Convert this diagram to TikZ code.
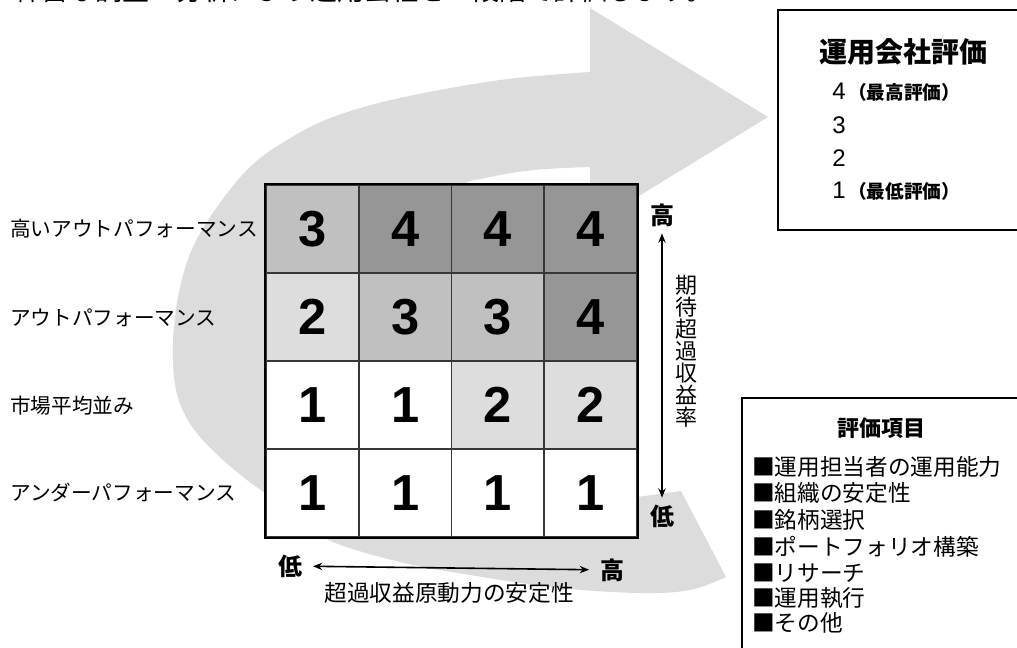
\documentclass[tikz,border=0pt]{standalone}
\usepackage{fontspec}
\usetikzlibrary{arrows.meta}
\setmainfont{Noto Sans CJK JP}
\newfontfamily\numfont{Liberation Sans}
\definecolor{band}{RGB}{220,220,220}
\definecolor{c1}{RGB}{255,255,255}
\definecolor{c2}{RGB}{221,221,221}
\definecolor{c3}{RGB}{192,192,192}
\definecolor{c4}{RGB}{150,150,150}
\definecolor{gridline}{RGB}{55,55,55}
\begin{document}
\begin{tikzpicture}[x=0.75pt,y=-0.75pt,
		cell/.style={draw=gridline,line width=1.4pt,minimum width=69.56pt,
			minimum height=66pt,inner sep=0pt,
			font=\numfont\bfseries\fontsize{38}{38}\selectfont},
		rowlab/.style={anchor=west,inner sep=0pt,font=\fontsize{15.5}{16}\selectfont},
		axlab/.style={inner sep=0pt,font=\bfseries\fontsize{18}{18}\selectfont},
		axarr/.style={{Stealth[length=7pt,width=5.5pt]}-{Stealth[length=7pt,width=5.5pt]},
			line width=1.2pt},
		leglab/.style={anchor=west,inner sep=0pt,font=\fontsize{18}{18}\selectfont},
		itemlab/.style={anchor=west,inner sep=0pt,font=\fontsize{17}{17}\selectfont}]
	\useasboundingbox (0,0) rectangle (1017,648);
	\clip (0,0) rectangle (1017,648);
	\node[anchor=base west,inner sep=0pt,font=\fontsize{20.25}{21}\selectfont] (lead)
	at (14,1) {綿密な調査・分析により運用会社を４段階で評価します。};
	\fill[band] plot[smooth,tension=0.6] coordinates {(590,72) (500,80) (400,98)
		(333,117) (287,140) (250,167) (217,207) (193,247) (180,287) (174,327)
		(173,360) (176,390) (185,415) (200,437) (223,460) (247,480) (265,493)
		(300,520) (333,542) (400,562) (470,575) (560,588) (640,593) (690,590) (726,577)}
	-- (681,491) -- (637,497)
	-- plot[smooth,tension=0.6] coordinates {(600,505) (480,470) (380,400) (340,300)
		(380,222) (455,187) (485,178) (534,170) (590,167)}
	-- (590,226) -- (768,117) -- (590,8) -- cycle;
	\foreach \row/\a/\b/\c/\d in {0/3/4/4/4,1/2/3/3/4,2/1/1/2/2,3/1/1/1/1}
	\foreach \col/\v in {0/\a,1/\b,2/\c,3/\d}
	\node[cell,fill=c\v] (c\row\col) at ({312.4+92.75*\col},{229+88*\row}) {\v};
	\draw[line width=1.6pt] (c00.north west) rectangle (c33.south east);
	\foreach \n/\y/\texn in {1/229/高いアウトパフォーマンス,2/318/アウトパフォーマンス,
		3/406/市場平均並み,4/492/アンダーパフォーマンス}
	\node[rowlab] (r\n) at (10,\y) {\texn};
	\node[axlab] (yhi) at (662,215) {高};
	\node[axlab] (ylo) at (662,516) {低};
	\draw[axarr,shorten <=5pt,shorten >=5pt] (yhi) -- (ylo);
	\node[align=center,inner sep=0pt,font=\fontsize{16.5}{16.5}\selectfont] (ytitle)
	at (686,351) {期\\待\\超\\過\\収\\益\\率};
	\node[axlab] (xlo) at (290,566) {低};
	\node[axlab] (xhi) at (612,570) {高};
	\draw[axarr,shorten <=8pt,shorten >=8pt] (xlo) -- (xhi);
	\node[inner sep=0pt,font=\fontsize{17}{17}\selectfont] (xtitle)
	at (449,593) {超過収益原動力の安定性};
	\draw[line width=2.2pt] (778,10) rectangle (1040,230);
	\node[inner sep=0pt,font=\bfseries\fontsize{21}{21}\selectfont] (evaltitle)
	at (903,52) {運用会社評価};
	\foreach \y/\n/\texn in {92/4/（最高評価）,125/3/,158/2/,191/1/（最低評価）}
	\node[leglab] (lv\n) at (832,\y)
	{{\numfont\n}\hspace{2pt}{\bfseries\fontsize{14}{14}\selectfont\texn}};
	\draw[line width=1.2pt] (742,398) rectangle (1040,700);
	\node[inner sep=0pt,font=\bfseries\fontsize{16.5}{16.5}\selectfont] (itemtitle)
	at (881,428) {評価項目};
	\foreach \y/\texn [count=\i] in {467/■運用担当者の運用能力,493/■組織の安定性,
		520/■銘柄選択,547/■ポートフォリオ構築,573/■リサーチ,598/■運用執行,623/■その他}
	\node[itemlab] (item\i) at (752,\y) {\texn};
\end{tikzpicture}
\end{document}
